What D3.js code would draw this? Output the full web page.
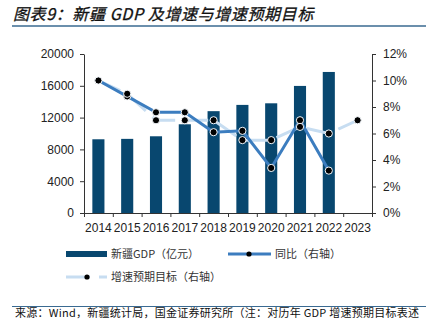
<!DOCTYPE html>
<html>
<head>
<meta charset="utf-8">
<script src="https://cdn.jsdelivr.net/npm/d3@7"></script>
<style>
  html, body { margin: 0; padding: 0; background: #fff; overflow: hidden; }
  svg { display: block; }
  .tick text { font-family: "Liberation Sans", Arial, sans-serif; font-size: 12px; fill: #222; }
  .cn { font-family: "Noto Sans CJK SC", sans-serif; }
</style>
</head>
<body>
<div id="chart"></div>
<script>
// Xinjiang GDP, growth and growth target
const years = ["2014", "2015", "2016", "2017", "2018", "2019", "2020", "2021", "2022", "2023"];
const gdp = [9273, 9325, 9650, 11160, 12809, 13597, 13798, 15984, 17741, null];   // 亿元
const yoy = [10.0, 8.8, 7.6, 7.6, 6.1, 6.2, 3.4, 7.0, 3.2, null];                // %
const target = [10.0, 9.0, 7.0, 7.0, 7.0, 5.5, 5.5, 6.5, 6.0, 7.0];             // %
const leftTicks = [0, 4000, 8000, 12000, 16000, 20000];
const rightTicks = [0, 2, 4, 6, 8, 10, 12];

const width = 426, height = 325;
const margin = { left: 84, right: 54, top: 54, bottom: 113 };

const svg = d3.select("#chart").append("svg")
    .attr("width", width)
    .attr("height", height);

// title
svg.append("text")
    .attr("class", "cn")
    .attr("x", 13).attr("y", 20)
    .attr("font-size", 16)
    .attr("font-style", "italic")
    .attr("letter-spacing", 0.6)
    .attr("fill", "#111")
    .attr("stroke", "#111")
    .attr("stroke-width", 0.3)
    .text("图表9：新疆 GDP 及增速与增速预期目标");

svg.append("line")
    .attr("x1", 12).attr("x2", width).attr("y1", 26).attr("y2", 26)
    .attr("stroke", "#3a6a91").attr("stroke-width", 1.5);

const x = d3.scaleBand()
    .domain(years)
    .range([margin.left, width - margin.right])
    .paddingInner(0.58)
    .paddingOuter(0.29);

const xEdge = d3.scaleLinear()
    .domain([0, years.length])
    .range([margin.left, width - margin.right]);

const yL = d3.scaleLinear().domain([0, 20000]).range([height - margin.bottom + 1, margin.top]);
const yR = d3.scaleLinear().domain([0, 12]).range([height - margin.bottom + 1, margin.top]);
const cx = d => x(d) + x.bandwidth() / 2;

// bars
svg.append("g").selectAll("rect")
    .data(years.map((yr, i) => ({ yr, v: gdp[i] })).filter(d => d.v != null))
    .enter().append("rect")
    .attr("x", d => x(d.yr))
    .attr("width", x.bandwidth())
    .attr("y", d => yL(d.v))
    .attr("height", d => yL(0) - yL(d.v))
    .attr("fill", "#08476f");

// axes
const axisColor = "#333";
const gL = svg.append("g")
    .attr("transform", `translate(${margin.left},0)`)
    .call(d3.axisLeft(yL).tickValues(leftTicks).tickSize(4).tickSizeOuter(0).tickPadding(6)
        .tickFormat(d3.format("d")));
const gR = svg.append("g")
    .attr("transform", `translate(${width - margin.right},0)`)
    .call(d3.axisRight(yR).tickValues(rightTicks).tickSize(4).tickSizeOuter(0).tickPadding(7)
        .tickFormat(d => d + "%"));
const gB = svg.append("g")
    .attr("transform", `translate(0,${yL(0)})`)
    .call(d3.axisBottom(xEdge).ticks(years.length).tickSize(4).tickSizeOuter(0).tickFormat(""));
const gBL = svg.append("g")
    .attr("transform", `translate(0,${yL(0)})`)
    .call(d3.axisBottom(x).tickSize(0).tickPadding(10));
gBL.select(".domain").remove();
[gL, gR, gB].forEach(g => g.selectAll("path, line").attr("stroke", axisColor));
gBL.selectAll("text").attr("dy", "0.71em");

// lines
const lineOf = arr => d3.line()
    .defined(d => d.v != null)
    .x(d => cx(d.yr))
    .y(d => yR(d.v))(years.map((yr, i) => ({ yr, v: arr[i] })));

svg.append("path")
    .attr("d", lineOf(target))
    .attr("fill", "none")
    .attr("stroke", "#c7ddf1")
    .attr("stroke-width", 3)
    .attr("stroke-dasharray", "24,9");

svg.append("path")
    .attr("d", lineOf(yoy))
    .attr("fill", "none")
    .attr("stroke", "#3c7dbf")
    .attr("stroke-width", 3);

const dots = (arr) => svg.append("g").selectAll("circle")
    .data(years.map((yr, i) => ({ yr, v: arr[i] })).filter(d => d.v != null))
    .enter().append("circle")
    .attr("cx", d => cx(d.yr))
    .attr("cy", d => yR(d.v))
    .attr("r", 3.6)
    .attr("fill", "#000")
    .attr("stroke", "#f4f8fc")
    .attr("stroke-width", 1);
dots(yoy);
dots(target);

// legend
const lg = svg.append("g");
const legText = (tx, ty, s) => lg.append("text").attr("class", "cn")
    .attr("x", tx).attr("y", ty).attr("dy", "0.35em")
    .attr("font-size", 11).attr("fill", "#333").text(s);

lg.append("rect").attr("x", 66).attr("y", 251).attr("width", 41).attr("height", 6).attr("fill", "#08476f");
legText(111, 254, "新疆GDP（亿元）");

lg.append("line").attr("x1", 228).attr("x2", 271).attr("y1", 254).attr("y2", 254)
    .attr("stroke", "#3c7dbf").attr("stroke-width", 3);
lg.append("circle").attr("cx", 249).attr("cy", 254).attr("r", 2.6).attr("fill", "#000");
legText(275, 254, "同比（右轴）");

lg.append("line").attr("x1", 66).attr("x2", 107).attr("y1", 277).attr("y2", 277)
    .attr("stroke", "#c7ddf1").attr("stroke-width", 3).attr("stroke-dasharray", "24,9");
lg.append("circle").attr("cx", 87).attr("cy", 277).attr("r", 2.6).attr("fill", "#000");
legText(111, 277, "增速预期目标（右轴）");

// footer
svg.append("line")
    .attr("x1", 12).attr("x2", width).attr("y1", 306.5).attr("y2", 306.5)
    .attr("stroke", "#3a6a91").attr("stroke-width", 1.2);
svg.append("text")
    .attr("class", "cn")
    .attr("x", 15).attr("y", 317)
    .attr("font-size", 11)
    .attr("letter-spacing", 0.25)
    .attr("fill", "#111")
    .text("来源：Wind，新疆统计局，国金证券研究所（注：对历年 GDP 增速预期目标表述");
</script>
</body>
</html>
